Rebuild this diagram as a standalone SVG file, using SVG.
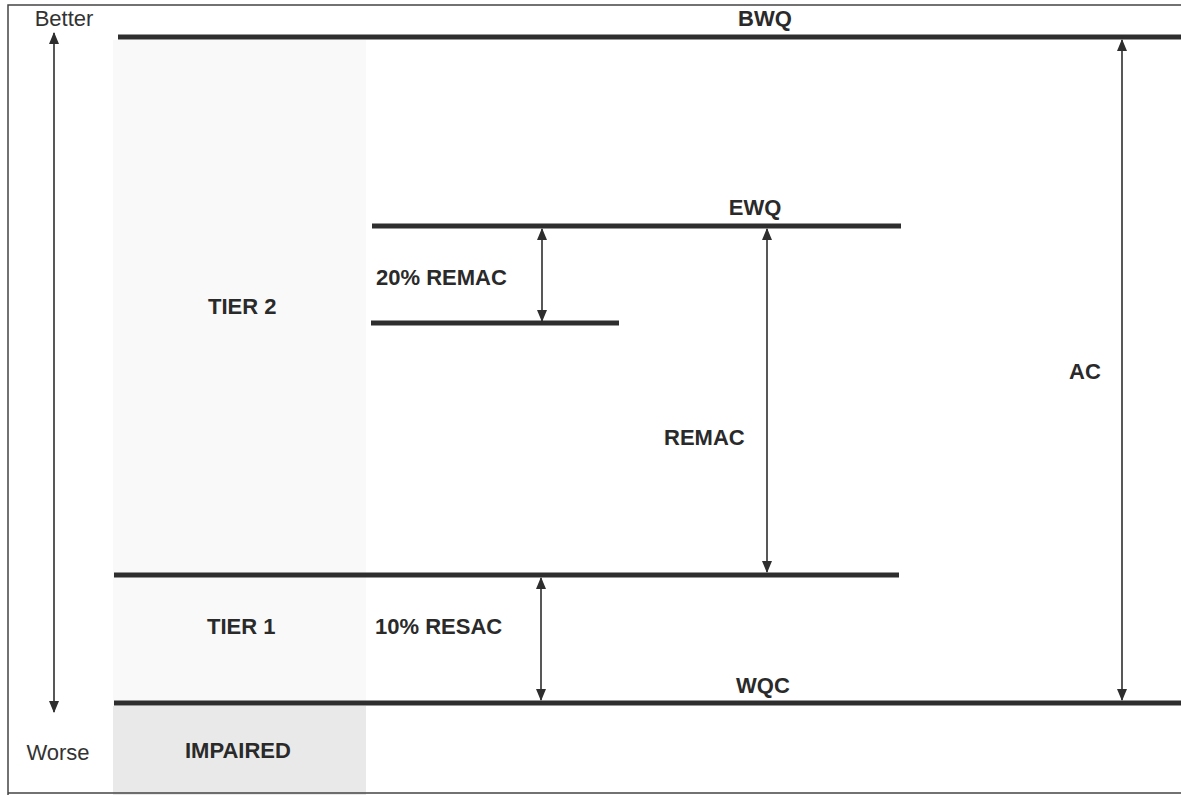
<svg xmlns="http://www.w3.org/2000/svg" width="1181" height="795" viewBox="0 0 1181 795">
<style>
.lvl{stroke:#2e2e2e;stroke-width:5;fill:none}
.arr{stroke:#2e2e2e;stroke-width:1.6;fill:none;marker-start:url(#ah);marker-end:url(#ah)}
.b{font-family:"Liberation Sans",Arial,sans-serif;font-weight:bold;font-size:22px;fill:#2a2a2a}
.n{font-family:"Liberation Sans",Arial,sans-serif;font-size:22px;fill:#333}
.frame{stroke:#444;stroke-width:1.5;fill:none}
</style>
<defs>
<marker id="ah" viewBox="0 0 12 12" refX="11" refY="6" markerWidth="12" markerHeight="12" markerUnits="userSpaceOnUse" orient="auto-start-reverse">
<path d="M0,1 L12,6 L0,11 Z" fill="#2e2e2e"/>
</marker>
</defs>
<rect width="1181" height="795" fill="#fff"/>
<g id="background">
<rect x="113" y="40" width="253" height="665" fill="#f9f9f9"/>
<rect x="113" y="706" width="253" height="89" fill="#e9e9e9"/>
<path class="frame" d="M1181,5 H8 V795 M8,793 H1181"/>
</g>
<g id="levels">
<g id="bwq"><line class="lvl" x1="118" y1="37" x2="1181" y2="37"/><text class="b" x="765" y="26" text-anchor="middle">BWQ</text></g>
<g id="ewq"><line class="lvl" x1="372" y1="226" x2="901" y2="226"/><text class="b" x="755" y="215" text-anchor="middle">EWQ</text></g>
<g id="remac20line"><line class="lvl" x1="371" y1="323" x2="619" y2="323"/></g>
<g id="tier1line"><line class="lvl" x1="114" y1="575" x2="899" y2="575"/></g>
<g id="wqc"><line class="lvl" x1="114" y1="703" x2="1181" y2="703"/><text class="b" x="763" y="693" text-anchor="middle">WQC</text></g>
</g>
<g id="connectors">
<line class="arr" x1="54" y1="33" x2="54" y2="712"/>
<line class="arr" x1="542" y1="229" x2="542" y2="321"/>
<line class="arr" x1="767" y1="229" x2="767" y2="572"/>
<line class="arr" x1="541" y1="578" x2="541" y2="700"/>
<line class="arr" x1="1122" y1="40" x2="1122" y2="700"/>
</g>
<g id="labels">
<text class="n" x="64" y="26" text-anchor="middle">Better</text>
<text class="n" x="58" y="760" text-anchor="middle">Worse</text>
<text class="b" x="376" y="285">20% REMAC</text>
<text class="b" x="208" y="314">TIER 2</text>
<text class="b" x="664" y="445">REMAC</text>
<text class="b" x="1069" y="379">AC</text>
<text class="b" x="207" y="634">TIER 1</text>
<text class="b" x="375" y="634">10% RESAC</text>
<text class="b" x="185" y="758">IMPAIRED</text>
</g>
</svg>
